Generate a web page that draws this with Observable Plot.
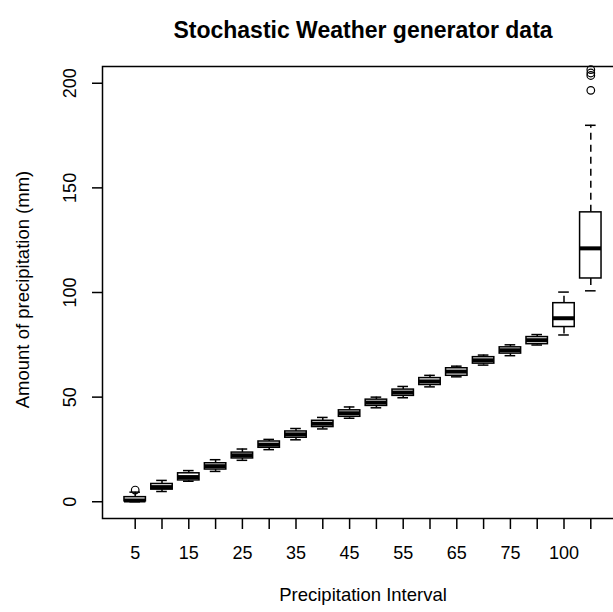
<!DOCTYPE html>
<html>
<head>
<meta charset="utf-8">
<script src="https://cdn.jsdelivr.net/npm/d3@7"></script>
<script src="https://cdn.jsdelivr.net/npm/@observablehq/plot@0.6"></script>
<style>
  html, body { margin: 0; padding: 0; background: white; overflow: hidden; }
</style>
</head>
<body>
<div id="chart"></div>
<script>
const title = "Stochastic Weather generator data";
const xTitle = "Precipitation Interval";
const yTitle = "Amount of precipitation (mm)";

const categories = ["5","10","15","20","25","30","35","40","45","50","55","60","65","70","75","80","100",">100"];
const whiskerLow  = [0.0, 4.9, 9.8, 14.5, 19.8, 24.9, 29.6, 34.8, 39.9, 44.9, 49.7, 54.9, 59.7, 65.3, 69.8, 74.9, 79.7, 100.8];
const quart1      = [0.2, 5.8, 10.2, 15.4, 20.7, 25.8, 30.6, 35.7, 40.6, 45.8, 50.6, 55.8, 60.2, 66.0, 70.8, 75.3, 83.5, 106.7];
const medians     = [0.6, 7.0, 11.8, 17.0, 22.2, 27.3, 32.2, 37.3, 42.3, 47.4, 52.2, 57.5, 62.2, 67.6, 72.4, 77.2, 87.7, 121.1];
const quart3      = [2.2, 8.5, 13.6, 18.4, 23.5, 28.8, 33.6, 38.7, 43.7, 48.8, 53.6, 59.1, 63.8, 69.1, 73.8, 78.7, 94.9, 138.3];
const whiskerHigh = [4.6, 10.2, 14.9, 20.1, 25.2, 29.8, 35.0, 40.3, 45.3, 50.0, 55.1, 60.4, 64.8, 70.1, 75.0, 79.9, 100.2, 179.9];

const outlierCat = ["5", ">100", ">100", ">100", ">100"];
const outlierVal = [5.6, 196.6, 203.7, 204.9, 206.5];

const yTicks = [0, 50, 100, 150, 200];
const shownLabels = ["5","15","25","35","45","55","65","75","100"];

const rows = categories.map((c, i) => ({
  cat: c, lo: whiskerLow[i], q1: quart1[i], med: medians[i], q3: quart3[i], hi: whiskerHigh[i]
}));
const outliers = outlierCat.map((c, i) => ({cat: c, v: outlierVal[i]}));

const font = "'Liberation Sans', Arial, Helvetica, sans-serif";

const chart = Plot.plot({
  width: 613,
  height: 612,
  marginTop: 66,
  marginBottom: 94,
  marginLeft: 102,
  marginRight: -10,
  style: {fontFamily: font, fontSize: "18px", color: "black", background: "white", overflow: "hidden"},
  x: {type: "band", domain: categories, paddingInner: 0.2, paddingOuter: 0.82, align: 0.5, round: false, label: null},
  y: {domain: [-8, 208], label: null},
  marks: [
    Plot.frame({stroke: "black", strokeWidth: 1.5}),
    Plot.axisY({ticks: yTicks, tickSize: 10, tickPadding: 17, tickRotate: -90, label: null, strokeWidth: 1.5, fill: "black"}),
    Plot.axisX({tickSize: 11, tickPadding: 17, label: null, strokeWidth: 1.5, fill: "black",
      tickFormat: d => shownLabels.includes(d) ? d : null}),
    // whiskers
    Plot.ruleX(rows, {x: "cat", y1: "q3", y2: "hi", stroke: "black", strokeWidth: 1.5, strokeDasharray: "7,5"}),
    Plot.ruleX(rows, {x: "cat", y1: "q1", y2: "lo", stroke: "black", strokeWidth: 1.5, strokeDasharray: "7,5"}),
    // staples
    Plot.tickY(rows, {x: "cat", y: "hi", stroke: "black", strokeWidth: 1.5, insetLeft: 5.4, insetRight: 5.4}),
    Plot.tickY(rows, {x: "cat", y: "lo", stroke: "black", strokeWidth: 1.5, insetLeft: 5.4, insetRight: 5.4}),
    // boxes
    Plot.barY(rows, {x: "cat", y1: "q1", y2: "q3", fill: "white", stroke: "black", strokeWidth: 1.5}),
    // medians
    Plot.tickY(rows, {x: "cat", y: "med", stroke: "black", strokeWidth: 4}),
    // outliers
    Plot.dot(outliers, {x: "cat", y: "v", r: 3.8, stroke: "black", strokeWidth: 1.2, fill: "none"}),
    // titles
    Plot.text([title], {frameAnchor: "top", dy: -45, text: d => d, fontSize: 23, fontWeight: "bold", fill: "black"}),
    Plot.text([xTitle], {frameAnchor: "bottom", dy: 82, text: d => d, fontSize: 18.5, fill: "black"}),
    Plot.text([yTitle], {frameAnchor: "left", dx: -79, dy: -3, rotate: -90, textAnchor: "middle", text: d => d, fontSize: 18.5, fill: "black"})
  ]
});
document.getElementById("chart").append(chart);
</script>
</body>
</html>
